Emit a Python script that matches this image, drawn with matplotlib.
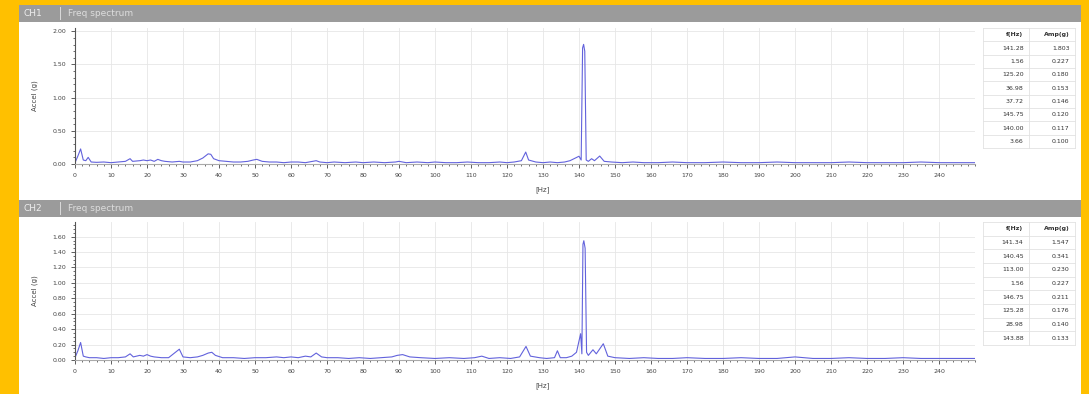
import matplotlib.pyplot as plt
from matplotlib.patches import Rectangle

# ---- data ----
x_ticks = list(range(0, 250, 10))

top_title = "CH1"
bottom_title = "CH2"
subtitle = "Freq spectrum"
y_label = "Accel (g)"
x_label = "[Hz]"

top_freq = [0, 0.8, 1.56, 2.3, 3.0, 3.66, 4.5, 6, 8, 10, 12, 14, 15.3, 16, 18, 19, 20, 21, 22, 23, 24,
            25, 27, 28.98, 30, 32, 34, 35.5, 36.98, 37.72, 38.5, 40, 42, 44, 46, 48, 49.5, 50.5, 52, 54,
            56, 58, 60, 62, 64, 66, 67, 68, 70, 72, 75, 78, 80, 83, 86, 89, 90, 92, 95, 98, 100, 103,
            106, 109, 112, 115, 118, 120, 122, 124, 125.2, 126, 128, 130, 132, 134, 136, 137.5, 139,
            140.0, 140.6, 141.0, 141.28, 141.6, 142.0, 142.6, 143.5, 144.3, 145.75, 147, 149, 152, 155,
            158, 162, 166, 170, 175, 180, 185, 190, 195, 200, 205, 210, 215, 220, 225, 230, 235, 240,
            245, 250]
top_amp = [0.02, 0.12, 0.227, 0.06, 0.05, 0.10, 0.03, 0.025, 0.03, 0.02, 0.03, 0.04, 0.08, 0.04, 0.05,
           0.06, 0.05, 0.06, 0.04, 0.07, 0.05, 0.04, 0.03, 0.04, 0.03, 0.03, 0.05, 0.09, 0.153, 0.146,
           0.08, 0.05, 0.04, 0.03, 0.03, 0.04, 0.06, 0.07, 0.04, 0.03, 0.03, 0.02, 0.03, 0.03, 0.02,
           0.04, 0.05, 0.03, 0.02, 0.03, 0.02, 0.03, 0.02, 0.03, 0.02, 0.03, 0.04, 0.02, 0.03, 0.02,
           0.03, 0.02, 0.02, 0.03, 0.02, 0.02, 0.03, 0.02, 0.03, 0.05, 0.180, 0.06, 0.03, 0.02, 0.03,
           0.02, 0.03, 0.05, 0.09, 0.117, 0.06, 1.75, 1.803, 1.70, 0.06, 0.04, 0.08, 0.05, 0.120, 0.04,
           0.03, 0.02, 0.03, 0.02, 0.02, 0.03, 0.02, 0.02, 0.03, 0.02, 0.02, 0.03, 0.02, 0.02, 0.02,
           0.03, 0.02, 0.02, 0.02, 0.03, 0.02, 0.02, 0.02]

bottom_freq = [0, 0.8, 1.56, 2.3, 3.0, 4, 6, 8, 10, 12, 14, 15.3, 16.2, 18, 19, 20, 21, 22, 24, 26,
               28.98, 30, 32, 34, 35.5, 37, 38, 39, 41, 44, 47, 50, 53, 56, 58, 60, 62, 64, 65.5, 67,
               68.5, 70, 73, 76, 79, 82, 85, 88, 89.5, 91, 93, 96, 100, 104, 108, 111, 113, 115, 118,
               121, 123.5, 125.28, 126.5, 129, 131, 133.2, 134, 134.8, 136.5, 138, 139.3, 140.45, 140.8,
               141.1, 141.34, 141.7, 142.1, 142.6, 143.88, 144.8, 146.75, 148, 150, 154, 158, 162, 166,
               170, 175, 180, 185, 190, 195, 200, 205, 210, 215, 220, 225, 230, 235, 240, 245, 250]
bottom_amp = [0.03, 0.12, 0.227, 0.05, 0.04, 0.03, 0.03, 0.02, 0.03, 0.03, 0.04, 0.08, 0.04, 0.06,
              0.05, 0.07, 0.05, 0.04, 0.03, 0.03, 0.140, 0.04, 0.03, 0.04, 0.06, 0.09, 0.10, 0.06,
              0.03, 0.03, 0.02, 0.03, 0.03, 0.04, 0.03, 0.04, 0.03, 0.05, 0.04, 0.09, 0.04, 0.03, 0.03,
              0.02, 0.03, 0.02, 0.03, 0.04, 0.06, 0.07, 0.04, 0.03, 0.02, 0.03, 0.02, 0.03, 0.05, 0.02,
              0.03, 0.02, 0.04, 0.176, 0.05, 0.03, 0.02, 0.03, 0.12, 0.03, 0.03, 0.05, 0.10, 0.341,
              0.08, 1.50, 1.547, 1.45, 0.10, 0.06, 0.133, 0.08, 0.211, 0.05, 0.03, 0.02, 0.03, 0.02,
              0.02, 0.03, 0.02, 0.02, 0.03, 0.02, 0.02, 0.04, 0.02, 0.02, 0.03, 0.02, 0.02, 0.03, 0.02,
              0.02, 0.02, 0.02]

table_header = ["f(Hz)", "Amp(g)"]
top_table_f = ["141.28", "1.56", "125.20", "36.98", "37.72", "145.75", "140.00", "3.66"]
top_table_a = ["1.803", "0.227", "0.180", "0.153", "0.146", "0.120", "0.117", "0.100"]
bottom_table_f = ["141.34", "140.45", "113.00", "1.56", "146.75", "125.28", "28.98", "143.88"]
bottom_table_a = ["1.547", "0.341", "0.230", "0.227", "0.211", "0.176", "0.140", "0.133"]

W, H = 1089, 394
fig = plt.figure(figsize=(W / 100, H / 100), dpi=100)
fig.patch.set_facecolor("#FFC000")


def frect(x, y, w, h):
    return [x / W, 1 - (y + h) / H, w / W, h / H]


def px_patch(x, y, w, h, color):
    r = Rectangle((x / W, 1 - (y + h) / H), w / W, h / H, transform=fig.transFigure,
                  facecolor=color, edgecolor="none", zorder=-5)
    fig.patches.append(r)


# white panel
px_patch(19, 5, 1062, 389, "white")


def header(y, name):
    px_patch(19, y, 1062, 17, "#9b9b9b")
    px_patch(60, y + 2, 1, 13, "#d8d8d8")
    fig.text(24 / W, 1 - (y + 8.5) / H, name, color="#eeeeee", fontsize=6.5, va="center")
    fig.text(68 / W, 1 - (y + 8.5) / H, subtitle, color="#dddddd", fontsize=6.5, va="center")


def spectrum(rect, freq, amp, ymax, ystep):
    ax = fig.add_axes(frect(*rect))
    ax.plot(freq, amp, color="#6262dc", lw=0.8)
    ax.set_xlim(0, 250)
    ax.set_ylim(0, ymax)
    ax.set_xticks(x_ticks)
    yt = [i * ystep for i in range(int(round(ymax / ystep)) + 1) if i * ystep <= ymax + 1e-9]
    ax.set_yticks(yt)
    ax.set_yticklabels([f"{v:.2f}" for v in yt])
    ax.minorticks_on()
    ax.tick_params(labelsize=4.5, length=3, width=0.6, colors="#444444")
    ax.tick_params(which="minor", length=1.5, width=0.4)
    ax.grid(True, color="#e6e6e6", lw=0.6)
    ax.grid(False, which="minor")
    for s in ["top", "right"]:
        ax.spines[s].set_visible(False)
    ax.spines["left"].set_color("#555555")
    ax.spines["bottom"].set_color("#aaaaaa")
    ax.set_ylabel(y_label, fontsize=5, color="#444444", labelpad=10)
    ax.set_xlabel(x_label, fontsize=5, color="#444444")
    ax.xaxis.set_label_coords(0.52, -0.16)
    return ax


def peak_table(rect, fvals, avals):
    ax = fig.add_axes(frect(*rect))
    ax.set_xlim(0, 1)
    ax.set_ylim(len(fvals) + 1, 0)
    ax.axis("off")
    n = len(fvals) + 1
    for i in range(n + 1):
        ax.plot([0, 1], [i, i], color="#e2e2e2", lw=0.6, clip_on=False)
    for xv in [0, 0.5, 1]:
        ax.plot([xv, xv], [0, n], color="#e2e2e2", lw=0.6, clip_on=False)
    ax.text(0.44, 0.5, table_header[0], ha="right", va="center", fontsize=4.5, fontweight="bold", color="#333333")
    ax.text(0.94, 0.5, table_header[1], ha="right", va="center", fontsize=4.5, fontweight="bold", color="#333333")
    for i, (f, a) in enumerate(zip(fvals, avals)):
        ax.text(0.44, i + 1.5, f, ha="right", va="center", fontsize=4.5, color="#333333")
        ax.text(0.94, i + 1.5, a, ha="right", va="center", fontsize=4.5, color="#333333")


header(5, top_title)
spectrum((75, 28, 900, 136), top_freq, top_amp, 2.05, 0.5)
peak_table((983, 28, 92, 120), top_table_f, top_table_a)

header(200, bottom_title)
spectrum((75, 222, 900, 138), bottom_freq, bottom_amp, 1.79, 0.2)
peak_table((983, 222, 92, 123), bottom_table_f, bottom_table_a)

fig.savefig("out.png", dpi=100, facecolor=fig.get_facecolor())
